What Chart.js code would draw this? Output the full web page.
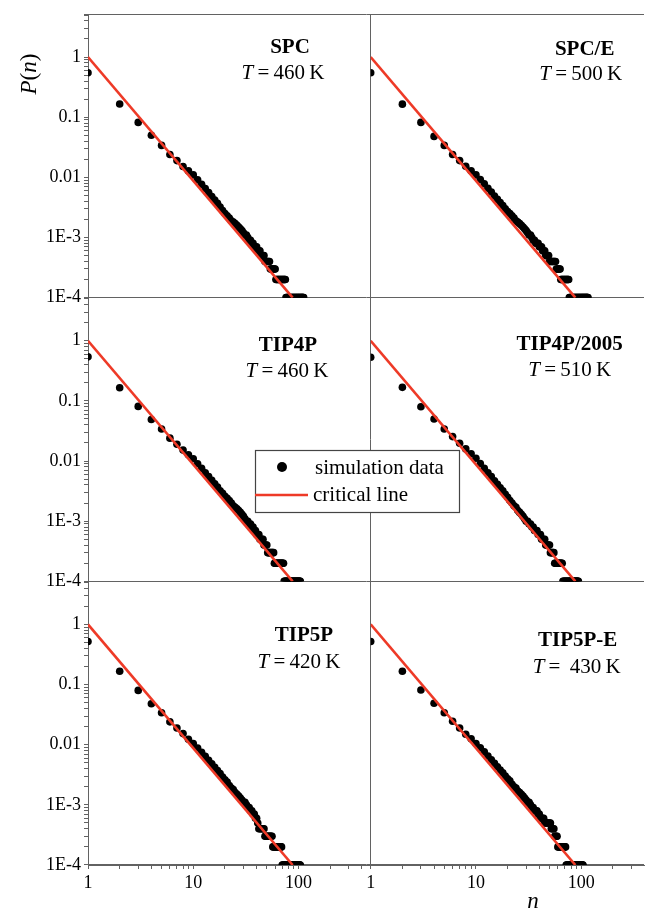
<!DOCTYPE html>
<html>
<head>
<meta charset="utf-8">
<title>P(n)</title>
<script src="https://cdn.jsdelivr.net/npm/chart.js@4.4.1/dist/chart.umd.min.js"></script>
<style>
  html, body { margin: 0; padding: 0; background: #fff; overflow: hidden; }
  #wrap { position: relative; width: 648px; height: 909px; }
  #clusters { display: block; }
</style>
</head>
<body>
<div id="wrap"><canvas id="clusters" width="648" height="909"></canvas></div>
<script>
// cluster sizes n
const sizes = [
  1, 2, 3, 4, 5, 6, 7, 8, 9, 10,
  11, 12, 13, 14, 15, 16, 17, 18, 19, 20,
  21, 22, 23, 24, 25, 26, 27, 28, 29, 30,
  31, 32, 33, 34, 35, 36, 37, 38, 39, 40,
  41, 42, 43, 44, 45, 46, 47, 48, 49, 50,
  51, 52, 53, 54, 55, 56, 57, 58, 59, 60,
  61, 62, 63, 64, 65, 66, 67, 68, 69, 70,
  71, 72, 73, 74, 75, 76, 77, 78, 79, 80,
  81, 82, 83, 84, 85, 86, 87, 88, 89, 90,
  91, 92, 93, 94, 95, 96, 97, 98, 99, 100,
  101, 102, 103, 104, 105, 106, 107, 108, 109, 110,
  111, 112, 113, 114, 115, 116
];

// P(n) for each water model, index i -> n = sizes[i]
const pSPC = [
  0.55, 0.166, 0.082, 0.050, 0.034, 0.024, 0.019, 0.0152, 0.0128, 0.0110,
  0.0091, 0.0077, 0.0065, 0.0056, 0.0048, 0.0042, 0.0037, 0.0032, 0.0028, 0.0025,
  0.0023, 0.0021, 0.0019, 0.0018, 0.0017, 0.0016, 0.0015, 0.0014, 0.0013, 0.0012,
  0.0011, 0.0011, 0.0010, 9e-4, 9e-4, 8e-4, 8e-4, 7e-4, 7e-4, 7e-4,
  6e-4, 6e-4, 6e-4, 5e-4, 5e-4, 5e-4, 5e-4, 4e-4, 4e-4, 4e-4,
  4e-4, 4e-4, 4e-4, 3e-4, 3e-4, 3e-4, 3e-4, 3e-4, 3e-4, 3e-4,
  2e-4, 2e-4, 2e-4, 2e-4, 2e-4, 2e-4, 2e-4, 2e-4, 2e-4, 2e-4,
  2e-4, 2e-4, 2e-4, 2e-4, 2e-4, 1e-4, 1e-4, 1e-4, 1e-4, 1e-4,
  1e-4, 1e-4, 1e-4, 1e-4, 1e-4, 1e-4, 1e-4, 1e-4, 1e-4, 1e-4,
  1e-4, 1e-4, 1e-4, 1e-4, 1e-4, 1e-4, 1e-4, 1e-4, 1e-4, 1e-4,
  1e-4, 1e-4, 1e-4, 1e-4, 1e-4, 1e-4, 1e-4, 1e-4, 1e-4, 1e-4,
  1e-4, 1e-4
];
const pSPCE = [
  0.55, 0.165, 0.082, 0.048, 0.034, 0.024, 0.019, 0.0153, 0.0128, 0.0110,
  0.0092, 0.0078, 0.0066, 0.0057, 0.0049, 0.0043, 0.0038, 0.0034, 0.0030, 0.0027,
  0.0025, 0.0023, 0.0021, 0.0019, 0.0018, 0.0017, 0.0016, 0.0015, 0.0014, 0.0013,
  0.0012, 0.0011, 0.0011, 0.0010, 9e-4, 9e-4, 8e-4, 8e-4, 8e-4, 7e-4,
  7e-4, 7e-4, 6e-4, 6e-4, 6e-4, 5e-4, 5e-4, 5e-4, 5e-4, 4e-4,
  4e-4, 4e-4, 4e-4, 4e-4, 4e-4, 4e-4, 4e-4, 3e-4, 3e-4, 3e-4,
  3e-4, 3e-4, 3e-4, 2e-4, 2e-4, 2e-4, 2e-4, 2e-4, 2e-4, 2e-4,
  2e-4, 2e-4, 2e-4, 2e-4, 2e-4, 2e-4, 1e-4, 1e-4, 1e-4, 1e-4,
  1e-4, 1e-4, 1e-4, 1e-4, 1e-4, 1e-4, 1e-4, 1e-4, 1e-4, 1e-4,
  1e-4, 1e-4, 1e-4, 1e-4, 1e-4, 1e-4, 1e-4, 1e-4, 1e-4, 1e-4,
  1e-4, 1e-4, 1e-4, 1e-4, 1e-4, 1e-4, 1e-4, 1e-4, 1e-4, 1e-4,
  1e-4, 1e-4, 1e-4, 1e-4, 1e-4, 1e-4
];
const pTIP4P = [
  0.54, 0.165, 0.081, 0.049, 0.034, 0.024, 0.019, 0.0152, 0.0127, 0.0109,
  0.0090, 0.0076, 0.0064, 0.0055, 0.0048, 0.0042, 0.0037, 0.0032, 0.0029, 0.0026,
  0.0024, 0.0022, 0.0020, 0.0018, 0.0017, 0.0016, 0.0015, 0.0014, 0.0013, 0.0012,
  0.0011, 0.0010, 0.0010, 9e-4, 9e-4, 8e-4, 8e-4, 7e-4, 7e-4, 6e-4,
  6e-4, 6e-4, 5e-4, 5e-4, 5e-4, 5e-4, 4e-4, 4e-4, 4e-4, 4e-4,
  3e-4, 3e-4, 3e-4, 3e-4, 3e-4, 3e-4, 3e-4, 3e-4, 2e-4, 2e-4,
  2e-4, 2e-4, 2e-4, 2e-4, 2e-4, 2e-4, 2e-4, 2e-4, 2e-4, 2e-4,
  2e-4, 2e-4, 1e-4, 1e-4, 1e-4, 1e-4, 1e-4, 1e-4, 1e-4, 1e-4,
  1e-4, 1e-4, 1e-4, 1e-4, 1e-4, 1e-4, 1e-4, 1e-4, 1e-4, 1e-4,
  1e-4, 1e-4, 1e-4, 1e-4, 1e-4, 1e-4, 1e-4, 1e-4, 1e-4, 1e-4,
  1e-4, 1e-4, 1e-4, 1e-4
];
const pTIP4P2005 = [
  0.53, 0.168, 0.080, 0.050, 0.034, 0.0255, 0.0198, 0.0159, 0.0132, 0.0111,
  0.0091, 0.0076, 0.0064, 0.0055, 0.0047, 0.0041, 0.0036, 0.0032, 0.0028, 0.0025,
  0.0022, 0.0020, 0.0018, 0.0017, 0.0015, 0.0014, 0.0013, 0.0012, 0.0011, 0.0010,
  0.0010, 9e-4, 9e-4, 8e-4, 8e-4, 7e-4, 7e-4, 7e-4, 6e-4, 6e-4,
  6e-4, 5e-4, 5e-4, 5e-4, 5e-4, 4e-4, 4e-4, 4e-4, 4e-4, 4e-4,
  3e-4, 3e-4, 3e-4, 3e-4, 3e-4, 2e-4, 2e-4, 2e-4, 2e-4, 2e-4,
  2e-4, 2e-4, 2e-4, 2e-4, 2e-4, 2e-4, 1e-4, 1e-4, 1e-4, 1e-4,
  1e-4, 1e-4, 1e-4, 1e-4, 1e-4, 1e-4, 1e-4, 1e-4, 1e-4, 1e-4,
  1e-4, 1e-4, 1e-4, 1e-4, 1e-4, 1e-4, 1e-4, 1e-4, 1e-4, 1e-4,
  1e-4, 1e-4, 1e-4, 1e-4
];
const pTIP5P = [
  0.52, 0.166, 0.080, 0.048, 0.034, 0.024, 0.019, 0.0153, 0.0123, 0.0105,
  0.0088, 0.0075, 0.0064, 0.0055, 0.0048, 0.0042, 0.0037, 0.0033, 0.0029, 0.0026,
  0.0024, 0.0021, 0.0019, 0.0018, 0.0016, 0.0015, 0.0014, 0.0013, 0.0012, 0.0011,
  0.0011, 0.0010, 9e-4, 9e-4, 8e-4, 8e-4, 7e-4, 7e-4, 6e-4, 6e-4,
  5e-4, 4e-4, 4e-4, 4e-4, 4e-4, 4e-4, 4e-4, 3e-4, 3e-4, 3e-4,
  3e-4, 3e-4, 3e-4, 3e-4, 3e-4, 3e-4, 2e-4, 2e-4, 2e-4, 2e-4,
  2e-4, 2e-4, 2e-4, 2e-4, 2e-4, 2e-4, 2e-4, 2e-4, 2e-4, 1e-4,
  1e-4, 1e-4, 1e-4, 1e-4, 1e-4, 1e-4, 1e-4, 1e-4, 1e-4, 1e-4,
  1e-4, 1e-4, 1e-4, 1e-4, 1e-4, 1e-4, 1e-4, 1e-4, 1e-4, 1e-4,
  1e-4, 1e-4, 1e-4, 1e-4, 1e-4, 1e-4, 1e-4, 1e-4, 1e-4, 1e-4,
  1e-4, 1e-4, 1e-4, 1e-4
];
const pTIP5PE = [
  0.52, 0.166, 0.081, 0.049, 0.034, 0.0246, 0.019, 0.0149, 0.0125, 0.0105,
  0.0089, 0.0076, 0.0065, 0.0056, 0.0049, 0.0043, 0.0038, 0.0034, 0.0030, 0.0027,
  0.0025, 0.0022, 0.0020, 0.0019, 0.0017, 0.0016, 0.0015, 0.0014, 0.0013, 0.0012,
  0.0011, 0.0011, 0.0010, 9e-4, 9e-4, 8e-4, 8e-4, 8e-4, 7e-4, 7e-4,
  6e-4, 6e-4, 6e-4, 6e-4, 5e-4, 5e-4, 5e-4, 5e-4, 5e-4, 5e-4,
  5e-4, 4e-4, 4e-4, 4e-4, 4e-4, 3e-4, 3e-4, 3e-4, 3e-4, 2e-4,
  2e-4, 2e-4, 2e-4, 2e-4, 2e-4, 2e-4, 2e-4, 2e-4, 2e-4, 2e-4,
  2e-4, 1e-4, 1e-4, 1e-4, 1e-4, 1e-4, 1e-4, 1e-4, 1e-4, 1e-4,
  1e-4, 1e-4, 1e-4, 1e-4, 1e-4, 1e-4, 1e-4, 1e-4, 1e-4, 1e-4,
  1e-4, 1e-4, 1e-4, 1e-4, 1e-4, 1e-4, 1e-4, 1e-4, 1e-4, 1e-4,
  1e-4, 1e-4, 1e-4, 1e-4
];

// critical line end points (n, P)
const critN = [1, 88];
const critP = [1, 1e-4];

// panels: left-to-right, top-to-bottom
const models = ['SPC', 'SPC/E', 'TIP4P', 'TIP4P/2005', 'TIP5P', 'TIP5P-E'];
const temps = ['=\u2009460\u2009K', '=\u2009500\u2009K', '=\u2009460\u2009K', '=\u2009510\u2009K', '=\u2009420\u2009K', '=\u2009 430\u2009K'];
const series = [pSPC, pSPCE, pTIP4P, pTIP4P2005, pTIP5P, pTIP5PE];

const yTickValues = [1e-4, 1e-3, 0.01, 0.1, 1];
const yTickLabels = ['1E-4', '1E-3', '0.01', '0.1', '1'];
const xTickValues = [1, 10, 100];
const xTickLabels = ['1', '10', '100'];

const SERIF = '"Liberation Serif", "DejaVu Serif", serif';
const AXIS = '#626262';
const RED = '#ee3a27';
const NONE = 'rgba(0,0,0,0)';

// label offsets inside each panel [dx from panel left, dy from panel top]
const namePos = [[202, 34], [214, 36], [200, 48], [199, 47], [216, 54], [207, 59]];
const tempPos = [[195, 59], [210, 60], [199, 74], [199, 73], [211, 81], [206, 86]];

function pickLabel(v, values, labels) {
  for (let k = 0; k < values.length; k++) {
    if (Math.abs(v / values[k] - 1) < 1e-6) return labels[k];
  }
  return '';
}

function mantissa(v) {
  return v / Math.pow(10, Math.floor(Math.log10(v) + 1e-9));
}

// log scales also put a tick at 1.5 x 10^k, drop it
function dropHalfTicks(scale) {
  scale.ticks = scale.ticks.filter(t => Math.abs(mantissa(t.value) - 1.5) > 1e-6);
}

// x axes: keep only 1..9 x 10^k, so no tick sits at the odd upper limit
function wholeTicks(scale) {
  scale.ticks = scale.ticks.filter(t => {
    const m = mantissa(t.value);
    return Math.abs(m - Math.round(m)) < 1e-6;
  });
}

function yAxis(weight, withTop) {
  return {
    type: 'logarithmic',
    position: 'left',
    stack: 'rows',
    stackWeight: 1,
    weight: weight,
    min: 1e-4,
    max: 5.2,
    afterBuildTicks: dropHalfTicks,
    afterFit: s => { s.width = 88; },
    border: {display: true, color: AXIS, width: 1},
    grid: {
      color: c => (c.index === 0 || (withTop && c.index === c.scale.ticks.length - 1)) ? AXIS : NONE,
      tickColor: AXIS,
      tickLength: 4,
      lineWidth: 1
    },
    ticks: {
      autoSkip: false,
      padding: 3,
      color: '#000',
      font: {family: SERIF, size: 18},
      callback: v => pickLabel(v, yTickValues, yTickLabels)
    }
  };
}

function xAxis(maxN) {
  return {
    type: 'logarithmic',
    position: 'bottom',
    stack: 'cols',
    stackWeight: Math.log10(maxN),
    min: 1,
    max: maxN,
    afterBuildTicks: s => { dropHalfTicks(s); wholeTicks(s); },
    afterFit: s => { s.height = 44; },
    border: {display: true, color: AXIS, width: 1},
    grid: {
      color: c => c.index === 0 ? AXIS : NONE,
      tickColor: AXIS,
      tickLength: 4,
      lineWidth: 1
    },
    ticks: {
      autoSkip: false,
      maxRotation: 0,
      minRotation: 0,
      padding: 3,
      color: '#000',
      font: {family: SERIF, size: 18},
      callback: v => pickLabel(v, xTickValues, xTickLabels)
    }
  };
}

const rowIds = ['yT', 'yM', 'yB'];
const colIds = ['xL', 'xR'];

const datasets = [];
series.forEach((p, i) => {
  const xId = colIds[i % 2];
  const yId = rowIds[Math.floor(i / 2)];
  datasets.push({
    label: 'critical line ' + models[i],
    data: critN.map((n, k) => ({x: n, y: critP[k]})),
    xAxisID: xId, yAxisID: yId,
    showLine: true,
    borderColor: RED,
    borderWidth: 2.6,
    pointRadius: 0,
    order: 0
  });
  datasets.push({
    label: 'simulation data ' + models[i],
    data: p.map((v, k) => ({x: sizes[k], y: v})),
    xAxisID: xId, yAxisID: yId,
    backgroundColor: '#000',
    borderColor: '#000',
    pointRadius: 3.8,
    pointBorderWidth: 0,
    order: 1
  });
});

function drawT(ctx, cx, cy, rest) {
  ctx.font = 'italic 21px ' + SERIF;
  const wT = ctx.measureText('T').width;
  ctx.font = '21px ' + SERIF;
  const wR = ctx.measureText('\u2009' + rest).width;
  const x0 = cx - (wT + wR) / 2;
  ctx.textAlign = 'left';
  ctx.font = 'italic 21px ' + SERIF;
  ctx.fillText('T', x0, cy);
  ctx.font = '21px ' + SERIF;
  ctx.fillText('\u2009' + rest, x0 + wT, cy);
}

// draws model names, temperatures, axis titles and the legend box
const panelText = {
  id: 'panelText',
  afterDraw(chart) {
    const ctx = chart.ctx;
    ctx.save();
    ctx.fillStyle = '#000';
    ctx.textBaseline = 'middle';
    models.forEach((name, i) => {
      const col = chart.scales[colIds[i % 2]];
      const row = chart.scales[rowIds[Math.floor(i / 2)]];
      ctx.font = 'bold 21px ' + SERIF;
      ctx.textAlign = 'center';
      ctx.fillText(name, col.left + namePos[i][0], row.top + namePos[i][1]);
      drawT(ctx, col.left + tempPos[i][0], row.top + tempPos[i][1], temps[i]);
    });

    // y title P(n), rotated
    ctx.save();
    ctx.translate(30, 74);
    ctx.rotate(-Math.PI / 2);
    const parts = [['P', true], ['(', false], ['n', true], [')', false]];
    let w = 0;
    parts.forEach(pt => {
      ctx.font = (pt[1] ? 'italic ' : '') + '23px ' + SERIF;
      w += ctx.measureText(pt[0]).width;
    });
    let x = -w / 2;
    ctx.textAlign = 'left';
    parts.forEach(pt => {
      ctx.font = (pt[1] ? 'italic ' : '') + '23px ' + SERIF;
      ctx.fillText(pt[0], x, 0);
      x += ctx.measureText(pt[0]).width;
    });
    ctx.restore();

    // x title n
    ctx.font = 'italic 23px ' + SERIF;
    ctx.textAlign = 'center';
    ctx.fillText('n', 533, 902);

    // legend
    const bx = 255, by = 450, bw = 204, bh = 62;
    ctx.fillStyle = '#fff';
    ctx.fillRect(bx, by, bw, bh);
    ctx.strokeStyle = '#444';
    ctx.lineWidth = 1.2;
    ctx.strokeRect(bx + 0.5, by + 0.5, bw, bh);
    ctx.fillStyle = '#000';
    ctx.beginPath();
    ctx.arc(bx + 27, by + 17, 5, 0, Math.PI * 2);
    ctx.fill();
    ctx.strokeStyle = RED;
    ctx.lineWidth = 2.6;
    ctx.beginPath();
    ctx.moveTo(bx, by + 45);
    ctx.lineTo(bx + 53, by + 45);
    ctx.stroke();
    ctx.fillStyle = '#000';
    ctx.font = '21px ' + SERIF;
    ctx.textAlign = 'left';
    ctx.fillText('simulation data', bx + 60, by + 18);
    ctx.fillText('critical line', bx + 58, by + 45);
    ctx.restore();
  }
};

new Chart(document.getElementById('clusters'), {
  type: 'scatter',
  data: {datasets: datasets},
  options: {
    responsive: false,
    animation: false,
    devicePixelRatio: 1,
    layout: {padding: {top: 14, right: 0, bottom: 0, left: 0}},
    plugins: {legend: {display: false}, tooltip: {enabled: false}},
    scales: {
      yT: yAxis(3, true),
      yM: yAxis(2, false),
      yB: yAxis(1, false),
      xL: xAxis(485),
      xR: xAxis(395)
    }
  },
  plugins: [panelText]
});
</script>
</body>
</html>
